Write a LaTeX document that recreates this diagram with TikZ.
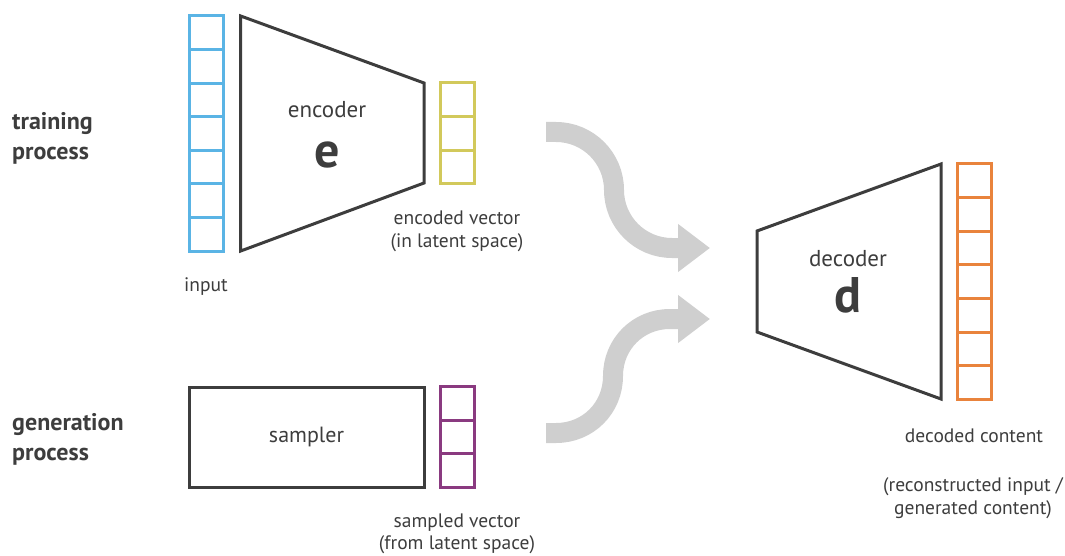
\documentclass[tikz,border=0pt]{standalone}
\usepackage{fontspec}
\setmainfont{PT Sans}
\usetikzlibrary{positioning,arrows.meta}

\definecolor{ink}{HTML}{3D3D3D}
\definecolor{inblue}{HTML}{5AB4E5}
\definecolor{encyel}{HTML}{D2C95B}
\definecolor{smppur}{HTML}{8A3A80}
\definecolor{decorg}{HTML}{E9833C}
\definecolor{flowgray}{HTML}{CFCFCF}

\begin{document}
\begin{tikzpicture}[x=1pt,y=-1pt,
  cell/.style={draw=#1,line width=3pt,minimum width=34pt,minimum height=33.6pt,inner sep=0pt},
  net/.style={draw=ink,line width=3pt,line join=miter},
  lbl/.style={text=ink,inner sep=0pt,font=\fontsize{19.5}{22.5}\selectfont,align=center,anchor=base},
  title/.style={text=ink,inner sep=0pt,font=\fontsize{23}{26}\selectfont,anchor=base},
  big/.style={text=ink,inner sep=0pt,font=\fontsize{50}{50}\selectfont\bfseries,anchor=base},
  stage/.style={text=ink,inner sep=0pt,font=\fontsize{24}{30}\selectfont\bfseries,align=left,anchor=base west},
  flow/.style={draw=flowgray,line width=20pt,-{Triangle[length=32pt,width=46pt]}}
  ]
  \useasboundingbox (0,0) rectangle (1065,556);

  % vectors
  \foreach \i in {1,...,7}
    \node[cell=inblue] (in\i) at (206,{16+33.6*(\i-0.5)}) {};
  \foreach \i in {1,2,3}
    \node[cell=encyel] (enc\i) at (457,{83+33.6*(\i-0.5)}) {};
  \foreach \i in {1,2,3}
    \node[cell=smppur] (smp\i) at (457,{387+33.4*(\i-0.5)}) {};
  \foreach \i in {1,...,7}
    \node[cell=decorg] (dec\i) at (974,{164+33.6*(\i-0.5)}) {};

  % encoder / decoder
  \draw[net] (240.7,16) -- (424,83) -- (424,183) -- (240.7,251) -- cycle;
  \draw[net] (757,231) -- (941,164) -- (941,399) -- (757,332) -- cycle;
  \node[title] (encname) at (327,118) {encoder};
  \node[big] (e) at (327,168) {e};
  \node[title] (decname) at (848,266) {decoder};
  \node[big] (d) at (848,312) {d};

  % sampler
  \node[draw=ink,line width=3pt,minimum width=235pt,minimum height=100pt,
    text=ink,font=\fontsize{22}{24}\selectfont] (sampler) at (306.5,437) {sampler};

  % labels (base = last line)
  \node[lbl] (inlbl) at (206,291) {input};
  \node[lbl] (enclbl) at (457,247) {encoded vector\\(in latent space)};
  \node[lbl] (smplbl) at (457,549.5) {sampled vector\\(from latent space)};
  \node[lbl] (declbl) at (974,442) {decoded content};
  \node[lbl] (reclbl) at (973,514) {(reconstructed input /\\generated content)};
  \node[stage] (train) at (12,160) {training\\process};
  \node[stage] (gen) at (12,460) {generation\\process};

  % flows
  \coordinate (t0) at (546,132);
  \coordinate (t1) at (710,248);
  \coordinate (g0) at (546,433);
  \coordinate (g1) at (710,319);
  \draw[flow] (t0) -- (556,132) .. controls (588,132) and (614,158) .. (614,190)
    .. controls (614,222) and (640,248) .. (672,248) -- (t1);
  \draw[flow] (g0) -- (556,433) .. controls (588,433) and (613,408) .. (613,376)
    .. controls (613,344) and (638,319) .. (670,319) -- (g1);
\end{tikzpicture}
\end{document}
